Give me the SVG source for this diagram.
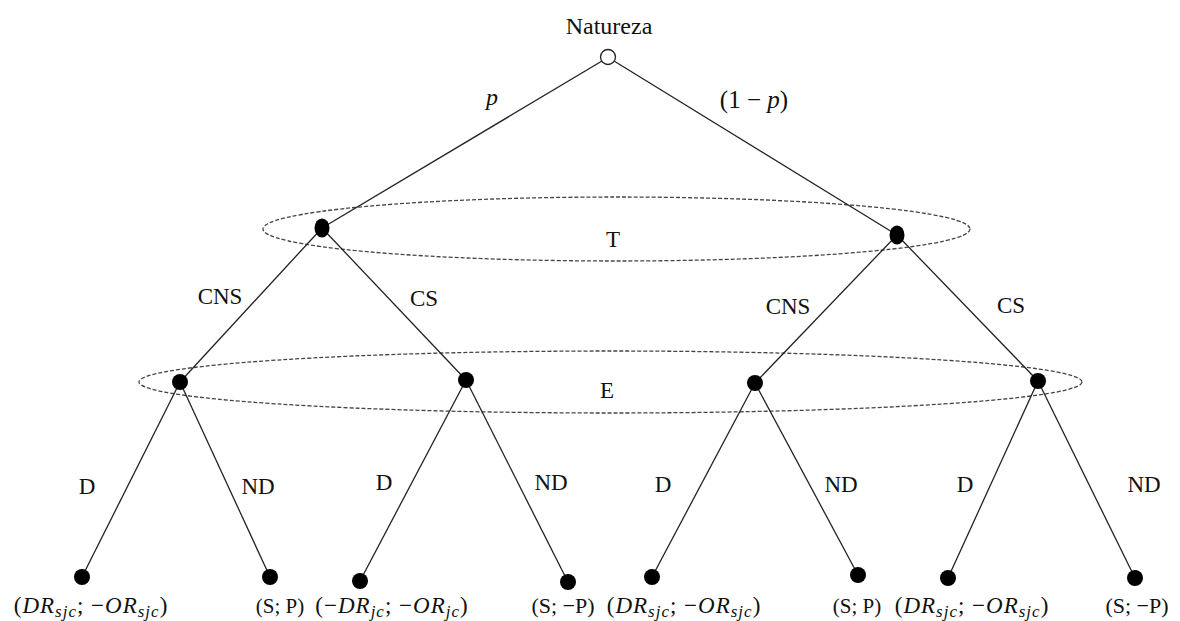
<svg xmlns="http://www.w3.org/2000/svg" width="1180" height="621" viewBox="0 0 1180 621">
<style>
.e{stroke:#222;stroke-width:1.3;fill:none}
.s{stroke:#444;stroke-width:1.3;fill:none;stroke-dasharray:4 2}
.n{fill:#000}
.t{font-family:"Liberation Serif","Times New Roman",serif;font-size:23px;fill:#111;text-anchor:middle}
.m{font-family:"Liberation Serif","Times New Roman",serif;font-size:23px;fill:#111;text-anchor:middle}
.ls{letter-spacing:1px}
.i{font-style:italic}
.sub{font-style:italic;font-size:17px}
.sp{font-size:21px}
</style>
<rect width="1180" height="621" fill="#fff"/>
<g id="sets">
<ellipse class="s" cx="616.5" cy="229" rx="353.5" ry="32"/>
<ellipse class="s" cx="610.5" cy="382" rx="471.5" ry="31"/>
</g>
<g id="connectors">
<line class="e" x1="602" y1="61" x2="322" y2="228"/>
<line class="e" x1="614" y1="61" x2="897" y2="235"/>
<line class="e" x1="322" y1="228" x2="180" y2="382"/>
<line class="e" x1="322" y1="228" x2="466" y2="380"/>
<line class="e" x1="897" y1="235" x2="755" y2="383"/>
<line class="e" x1="897" y1="235" x2="1038" y2="381"/>
<line class="e" x1="180" y1="382" x2="82" y2="577"/>
<line class="e" x1="180" y1="382" x2="270" y2="577"/>
<line class="e" x1="466" y1="380" x2="360" y2="581"/>
<line class="e" x1="466" y1="380" x2="568" y2="582"/>
<line class="e" x1="755" y1="383" x2="652" y2="577"/>
<line class="e" x1="755" y1="383" x2="858" y2="575"/>
<line class="e" x1="1038" y1="381" x2="948" y2="578"/>
<line class="e" x1="1038" y1="381" x2="1135" y2="578"/>
</g>
<g id="labels">
<text class="m i" x="492" y="105" style="font-size:24px">p</text>
<text class="m" x="754" y="108" style="font-size:25px">(1 − <tspan class="i">p</tspan>)</text>
<text class="t" x="220" y="304">CNS</text>
<text class="t" x="424" y="306">CS</text>
<text class="t" x="788" y="314">CNS</text>
<text class="t" x="1011" y="313">CS</text>
<text class="t" x="87" y="494">D</text>
<text class="t" x="258" y="494">ND</text>
<text class="t" x="384" y="490">D</text>
<text class="t" x="551" y="490">ND</text>
<text class="t" x="663" y="492">D</text>
<text class="t" x="841" y="492">ND</text>
<text class="t" x="965" y="492">D</text>
<text class="t" x="1144" y="492">ND</text>
</g>
<g id="natureza">
<circle cx="608" cy="57" r="7.5" fill="#fff" stroke="#222" stroke-width="1.3"/>
<text class="t" x="609" y="34" style="font-size:24px">Natureza</text>
</g>
<g id="T">
<ellipse class="n" cx="322" cy="228" rx="7.5" ry="9.5"/>
<ellipse class="n" cx="897" cy="235" rx="7.5" ry="9.5"/>
<text class="t" x="613" y="247">T</text>
</g>
<g id="E">
<circle class="n" cx="180" cy="382" r="8"/>
<circle class="n" cx="466" cy="380" r="8"/>
<circle class="n" cx="755" cy="383" r="8"/>
<circle class="n" cx="1038" cy="381" r="8"/>
<text class="t" x="607" y="398">E</text>
</g>
<g id="leaf1"><circle class="n" cx="82" cy="577" r="8"/>
<text class="m ls" x="91" y="613">(<tspan class="i">DR</tspan><tspan class="sub" dy="4">sjc</tspan><tspan dy="-4">; −</tspan><tspan class="i">OR</tspan><tspan class="sub" dy="4">sjc</tspan><tspan dy="-4">)</tspan></text></g>
<g id="leaf2"><circle class="n" cx="270" cy="577" r="8"/>
<text class="m sp" x="280" y="613">(S; P)</text></g>
<g id="leaf3"><circle class="n" cx="360" cy="581" r="8"/>
<text class="m ls" x="392" y="613">(−<tspan class="i">DR</tspan><tspan class="sub" dy="4">jc</tspan><tspan dy="-4">; −</tspan><tspan class="i">OR</tspan><tspan class="sub" dy="4">jc</tspan><tspan dy="-4">)</tspan></text></g>
<g id="leaf4"><circle class="n" cx="568" cy="582" r="8"/>
<text class="m" x="563" y="613" style="font-size:22px">(S; −P)</text></g>
<g id="leaf5"><circle class="n" cx="652" cy="577" r="8"/>
<text class="m ls" x="684" y="613">(<tspan class="i">DR</tspan><tspan class="sub" dy="4">sjc</tspan><tspan dy="-4">; −</tspan><tspan class="i">OR</tspan><tspan class="sub" dy="4">sjc</tspan><tspan dy="-4">)</tspan></text></g>
<g id="leaf6"><circle class="n" cx="858" cy="575" r="8"/>
<text class="m sp" x="857" y="613">(S; P)</text></g>
<g id="leaf7"><circle class="n" cx="948" cy="578" r="8"/>
<text class="m ls" x="972" y="613">(<tspan class="i">DR</tspan><tspan class="sub" dy="4">sjc</tspan><tspan dy="-4">; −</tspan><tspan class="i">OR</tspan><tspan class="sub" dy="4">sjc</tspan><tspan dy="-4">)</tspan></text></g>
<g id="leaf8"><circle class="n" cx="1135" cy="578" r="8"/>
<text class="m" x="1137" y="613" style="font-size:22px">(S; −P)</text></g>
</svg>
